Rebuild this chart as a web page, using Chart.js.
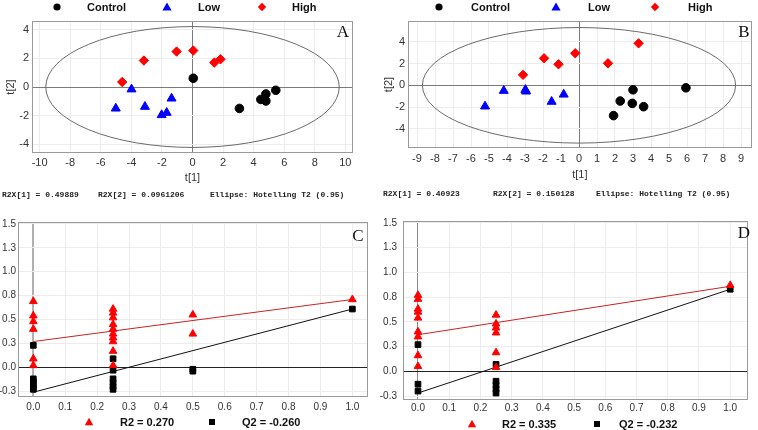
<!DOCTYPE html>
<html>
<head>
<meta charset="utf-8">
<title>PCA score plots and permutation tests</title>
<script src="https://cdn.jsdelivr.net/npm/chart.js@4.4.0/dist/chart.umd.min.js"></script>
<style>
  body { margin: 0; background: #fff; width: 758px; height: 430px; position: relative; overflow: hidden; }
  canvas { position: absolute; }
</style>
</head>
<body>
<canvas id="chartA" width="378" height="200" style="left:0;top:0"></canvas>
<canvas id="chartB" width="380" height="200" style="left:378px;top:0"></canvas>
<canvas id="chartC" width="378" height="230" style="left:0;top:200px"></canvas>
<canvas id="chartD" width="380" height="230" style="left:378px;top:200px"></canvas>
<script>
// ---- data ----
var groupNames = ['Control', 'Low', 'High'];

// score plot A  [t1, t2]
var controlA = [[0.05, 0.61], [3.07, -1.50], [4.47, -0.87], [4.80, -0.98], [4.80, -0.49], [5.45, -0.23]];
var lowA = [[-5.02, -1.50], [-3.99, -0.16], [-3.11, -1.38], [-2.02, -1.96], [-1.69, -1.80], [-1.37, -0.80]];
var highA = [[-4.60, 0.35], [-3.18, 1.85], [-1.04, 2.48], [0.05, 2.55], [1.43, 1.71], [1.83, 1.94]];
var ellipseA = [9.6, 4.23];
var xTicksA = [-10, -8, -6, -4, -2, 0, 2, 4, 6, 8, 10];
var yTicksA = [-4, -2, 0, 2, 4];
var notesA = ['R2X[1] = 0.49889', 'R2X[2] = 0.0961206', 'Ellipse: Hotelling T2 (0.95)'];

// score plot B
var controlB = [[1.92, -2.78], [2.29, -1.44], [2.96, -1.66], [3.00, -0.41], [3.59, -1.96], [5.94, -0.23]];
var lowB = [[-5.22, -1.93], [-4.18, -0.50], [-2.98, -0.41], [-2.94, -0.56], [-1.52, -1.50], [-0.85, -0.84]];
var highB = [[-3.11, 0.96], [-1.94, 2.48], [-1.14, 1.93], [-0.21, 2.94], [1.61, 2.02], [3.31, 3.85]];
var ellipseB = [8.7, 5.3];
var xTicksB = [-9, -8, -7, -6, -5, -4, -3, -2, -1, 0, 1, 2, 3, 4, 5, 6, 7, 8, 9];
var yTicksB = [-4, -2, 0, 2, 4];
var notesB = ['R2X[1] = 0.40923', 'R2X[2] = 0.150128', 'Ellipse: Hotelling T2 (0.95)'];

// permutation test C  [correlation, value]
var r2C = [[0, 0.69], [0, 0.54], [0, 0.48], [0, 0.40], [0, 0.09], [0, 0.02],
  [0.25, 0.61], [0.25, 0.57], [0.25, 0.52], [0.25, 0.45], [0.25, 0.40], [0.25, 0.35],
  [0.25, 0.31], [0.25, 0.27], [0.25, 0.17], [0.25, 0.02],
  [0.5, 0.55], [0.5, 0.35], [1, 0.71]];
var q2C = [[0, 0.23], [0, -0.12], [0, -0.15], [0, -0.18], [0, -0.21], [0, -0.23],
  [0.25, 0.09], [0.25, -0.03], [0.25, -0.12], [0.25, -0.16], [0.25, -0.20], [0.25, -0.23],
  [0.5, -0.02], [0.5, -0.04], [1, 0.61]];
var r2LineC = [[0, 0.27], [1, 0.71]];
var q2LineC = [[0, -0.26], [1, 0.61]];
var legendC = ['R2 = 0.270', 'Q2 = -0.260'];

// permutation test D
var r2D = [[0, 0.77], [0, 0.73], [0, 0.63], [0, 0.60], [0, 0.54], [0, 0.40], [0, 0.35], [0, 0.16], [0, 0.05],
  [0.25, 0.57], [0.25, 0.48], [0.25, 0.44], [0.25, 0.39], [0.25, 0.19], [0.25, 0.04], [1, 0.87]];
var q2D = [[0, 0.27], [0, -0.13], [0, -0.20],
  [0.25, 0.07], [0.25, -0.10], [0.25, -0.14], [0.25, -0.18], [0.25, -0.22], [1, 0.83]];
var r2LineD = [[0, 0.37], [1, 0.86]];
var q2LineD = [[0, -0.22], [1, 0.83]];
var legendD = ['R2 = 0.335', 'Q2 = -0.232'];

var xTicksPerm = [0, 0.1, 0.2, 0.3, 0.4, 0.5, 0.6, 0.7, 0.8, 0.9, 1.0];
var yTicksPerm = [-0.25, 0, 0.25, 0.5, 0.75, 1.0, 1.25, 1.5];
var yTickLabelsPerm = ['-0.3', '0.0', '0.3', '0.5', '0.8', '1.0', '1.3', '1.5'];

// ---- helpers ----
function toPoints(arr) {
  return arr.map(function (p) { return { x: p[0], y: p[1] }; });
}

function drawSymbol(ctx, style, x, y, r, color) {
  ctx.save();
  ctx.fillStyle = color;
  ctx.beginPath();
  if (style === 'circle') {
    ctx.arc(x, y, r, 0, Math.PI * 2);
  } else if (style === 'triangle') {
    ctx.moveTo(x, y - r);
    ctx.lineTo(x + r, y + r * 0.75);
    ctx.lineTo(x - r, y + r * 0.75);
    ctx.closePath();
  } else if (style === 'diamond') {
    ctx.moveTo(x, y - r);
    ctx.lineTo(x + r, y);
    ctx.lineTo(x, y + r);
    ctx.lineTo(x - r, y);
    ctx.closePath();
  } else {
    ctx.rect(x - r, y - r, 2 * r, 2 * r);
  }
  ctx.fill();
  ctx.restore();
}

// ellipse, frame, letter, legend and footnote text
var panelDeco = {
  id: 'panelDeco',
  beforeDatasetsDraw: function (chart, args, opts) {
    if (!opts.ellipse) return;
    var ctx = chart.ctx, a = chart.chartArea;
    var xs = chart.scales.x, ys = chart.scales.y;
    var cx = xs.getPixelForValue(0), cy = ys.getPixelForValue(0);
    var rx = Math.abs(xs.getPixelForValue(opts.ellipse[0]) - cx);
    var ry = Math.abs(ys.getPixelForValue(opts.ellipse[1]) - cy);
    ctx.save();
    ctx.beginPath();
    ctx.rect(a.left, a.top, a.right - a.left, a.bottom - a.top);
    ctx.clip();
    ctx.beginPath();
    ctx.ellipse(cx, cy, rx, ry, 0, 0, Math.PI * 2);
    ctx.strokeStyle = '#6a6a6a';
    ctx.lineWidth = 1;
    ctx.stroke();
    ctx.restore();
  },
  afterDraw: function (chart, args, opts) {
    var ctx = chart.ctx, a = chart.chartArea;
    ctx.save();
    ctx.strokeStyle = '#9a9a9a';
    ctx.lineWidth = 1;
    ctx.strokeRect(Math.round(a.left) + 0.5, Math.round(a.top) + 0.5,
      Math.round(a.right - a.left) - 1, Math.round(a.bottom - a.top) - 1);

    ctx.fillStyle = '#111';
    ctx.font = '17px "Liberation Serif", serif';
    ctx.textAlign = 'center';
    ctx.textBaseline = 'middle';
    ctx.fillText(opts.letter, opts.letterPos[0], opts.letterPos[1]);

    ctx.font = 'bold 11px "Liberation Sans", Arial, sans-serif';
    ctx.textAlign = 'left';
    opts.legend.forEach(function (item) {
      drawSymbol(ctx, item.style, item.symX, opts.legendY, item.r, item.color);
      ctx.fillStyle = '#111';
      ctx.fillText(item.label, item.textX, opts.legendY + 0.5);
    });

    if (opts.notes) {
      ctx.font = 'bold 8px "Liberation Mono", "Courier New", monospace';
      ctx.fillStyle = '#222';
      opts.notes.forEach(function (t, i) {
        ctx.fillText(t, opts.notesX[i], opts.notesY);
      });
    }
    ctx.restore();
  }
};
Chart.register(panelDeco);

function gridColor(zeroColor) {
  return function (c) {
    return c.tick && c.tick.value === 0 ? zeroColor : '#ececec';
  };
}

function gridWidth(zeroWidth) {
  return function (c) {
    return c.tick && c.tick.value === 0 ? zeroWidth : 1;
  };
}

function makeScales(p) {
  var tickFont = { family: '"Liberation Sans", Arial, sans-serif', size: p.tickSize };
  return {
    x: {
      type: 'linear',
      min: p.xMin,
      max: p.xMax,
      afterBuildTicks: function (s) {
        s.ticks = p.xTicks.map(function (v) { return { value: v }; });
      },
      afterFit: function (s) {
        s.height = p.xHeight;
        s.paddingLeft = 0;
        s.paddingRight = 0;
      },
      ticks: {
        autoSkip: false,
        maxRotation: 0,
        padding: p.xPad,
        color: '#333',
        font: tickFont,
        callback: p.xLabel
      },
      grid: { drawTicks: false, color: gridColor(p.xZero), lineWidth: gridWidth(p.xZeroWidth) },
      border: { display: false },
      title: {
        display: !!p.xTitle,
        text: p.xTitle || '',
        color: '#333',
        font: { family: '"Liberation Sans", Arial, sans-serif', size: 11 },
        padding: { top: 0, bottom: p.xTitlePad || 0 }
      }
    },
    y: {
      type: 'linear',
      min: p.yMin,
      max: p.yMax,
      afterBuildTicks: function (s) {
        s.ticks = p.yTicks.map(function (v) { return { value: v }; });
      },
      afterFit: function (s) {
        s.width = p.yWidth;
        s.paddingTop = 0;
        s.paddingBottom = 0;
      },
      ticks: {
        autoSkip: false,
        padding: p.yPad,
        color: '#333',
        font: tickFont,
        callback: p.yLabel
      },
      grid: { drawTicks: false, color: gridColor(p.yZero), lineWidth: gridWidth(1) },
      border: { display: false },
      title: {
        display: !!p.yTitle,
        text: p.yTitle || '',
        color: '#333',
        font: { family: '"Liberation Sans", Arial, sans-serif', size: 11 },
        padding: { top: 4, bottom: 0 }
      }
    }
  };
}

function scoreDatasets(control, low, high) {
  return [
    { label: groupNames[0], data: toPoints(control), pointStyle: 'circle', pointRadius: 4.3,
      backgroundColor: '#000', borderColor: '#000' },
    { label: groupNames[1], data: toPoints(low), pointStyle: 'triangle', pointRadius: 5.2,
      backgroundColor: '#0000ff', borderColor: '#0000ff' },
    { label: groupNames[2], data: toPoints(high), pointStyle: 'rectRot', pointRadius: 4.7,
      backgroundColor: '#ff0000', borderColor: '#ff0000' }
  ];
}

function permDatasets(r2, q2, r2Line, q2Line) {
  return [
    { type: 'scatter', label: 'R2', data: toPoints(r2), pointStyle: 'triangle', pointRadius: 4.4,
      backgroundColor: '#ff0000', borderColor: '#ff0000' },
    { type: 'scatter', label: 'Q2', data: toPoints(q2), pointStyle: 'rect', pointRadius: 4,
      backgroundColor: '#000', borderColor: '#000' },
    { type: 'line', label: 'R2 line', data: toPoints(r2Line), borderColor: '#cc2222', borderWidth: 1,
      pointRadius: 0, fill: false },
    { type: 'line', label: 'Q2 line', data: toPoints(q2Line), borderColor: '#111', borderWidth: 1,
      pointRadius: 0, fill: false }
  ];
}

var baseOptions = function (padding, scales, deco) {
  return {
    responsive: false,
    animation: false,
    layout: { padding: padding },
    plugins: {
      legend: { display: false },
      tooltip: { enabled: false },
      panelDeco: deco
    },
    scales: scales
  };
};

function scoreLegend(x) {
  return [
    { style: 'circle', r: 3.6, color: '#000', symX: x[0], textX: x[1], label: groupNames[0] },
    { style: 'triangle', r: 4.6, color: '#0000ff', symX: x[2], textX: x[3], label: groupNames[1] },
    { style: 'diamond', r: 4.2, color: '#ff0000', symX: x[4], textX: x[5], label: groupNames[2] }
  ];
}

function permLegend(x, labels) {
  return [
    { style: 'triangle', r: 4.2, color: '#ff0000', symX: x[0], textX: x[1], label: labels[0] },
    { style: 'square', r: 3, color: '#000', symX: x[2], textX: x[3], label: labels[1] }
  ];
}

var permLabelX = function (v, i) { return xTicksPerm[i].toFixed(1); };
var permLabelY = function (v, i) { return yTickLabelsPerm[i]; };

// ---- A ----
new Chart(document.getElementById('chartA').getContext('2d'), {
  type: 'scatter',
  data: { datasets: scoreDatasets(controlA, lowA, highA) },
  options: baseOptions({ top: 21, right: 25, left: 0, bottom: 0 },
    makeScales({
      xMin: -10.5, xMax: 10.5, xTicks: xTicksA, xHeight: 47, xPad: 3, xZero: '#7a7a7a', xZeroWidth: 1,
      yMin: -4.62, yMax: 4.62, yTicks: yTicksA, yWidth: 32, yPad: 3, yZero: '#7a7a7a',
      tickSize: 11, xTitle: 't[1]', xTitlePad: 15, yTitle: 't[2]'
    }),
    { ellipse: ellipseA, letter: 'A', letterPos: [343, 33], legendY: 7,
      legend: scoreLegend([57, 87, 167, 198, 262, 292]),
      notes: notesA, notesX: [2, 98, 210], notesY: 195 })
});

// ---- B ----
new Chart(document.getElementById('chartB').getContext('2d'), {
  type: 'scatter',
  data: { datasets: scoreDatasets(controlB, lowB, highB) },
  options: baseOptions({ top: 21, right: 2, left: 0, bottom: 0 },
    makeScales({
      xMin: -9.5, xMax: 9.6, xTicks: xTicksB, xHeight: 52, xPad: 4, xZero: '#7a7a7a', xZeroWidth: 1,
      yMin: -5.75, yMax: 5.9, yTicks: yTicksB, yWidth: 30, yPad: 3, yZero: '#7a7a7a',
      tickSize: 11, xTitle: 't[1]', xTitlePad: 18, yTitle: 't[2]'
    }),
    { ellipse: ellipseB, letter: 'B', letterPos: [366, 33], legendY: 7,
      legend: scoreLegend([61, 93, 178, 210, 277, 310]),
      notes: notesB, notesX: [5, 115, 218], notesY: 194 })
});

// ---- C ----
new Chart(document.getElementById('chartC').getContext('2d'), {
  type: 'scatter',
  data: { datasets: permDatasets(r2C, q2C, r2LineC, q2LineC) },
  options: baseOptions({ top: 22, right: 10, left: 0, bottom: 0 },
    makeScales({
      xMin: -0.048, xMax: 1.049, xTicks: xTicksPerm, xHeight: 33, xPad: 4, xZero: '#b0b0b0', xZeroWidth: 2,
      yMin: -0.31, yMax: 1.52, yTicks: yTicksPerm, yWidth: 18, yPad: 2, yZero: '#222',
      tickSize: 10, xLabel: permLabelX, yLabel: permLabelY
    }),
    { letter: 'C', letterPos: [358, 37], legendY: 222,
      legend: permLegend([89, 120, 212, 242], legendC) })
});

// ---- D ----
new Chart(document.getElementById('chartD').getContext('2d'), {
  type: 'scatter',
  data: { datasets: permDatasets(r2D, q2D, r2LineD, q2LineD) },
  options: baseOptions({ top: 21, right: 10, left: 0, bottom: 0 },
    makeScales({
      xMin: -0.048, xMax: 1.057, xTicks: xTicksPerm, xHeight: 30, xPad: 2, xZero: '#8a8a8a', xZeroWidth: 1,
      yMin: -0.29, yMax: 1.52, yTicks: yTicksPerm, yWidth: 25, yPad: 6, yZero: '#222',
      tickSize: 10, xLabel: permLabelX, yLabel: permLabelY
    }),
    { letter: 'D', letterPos: [366, 34], legendY: 224,
      legend: permLegend([94, 124, 219, 241], legendD) })
});
</script>
</body>
</html>
